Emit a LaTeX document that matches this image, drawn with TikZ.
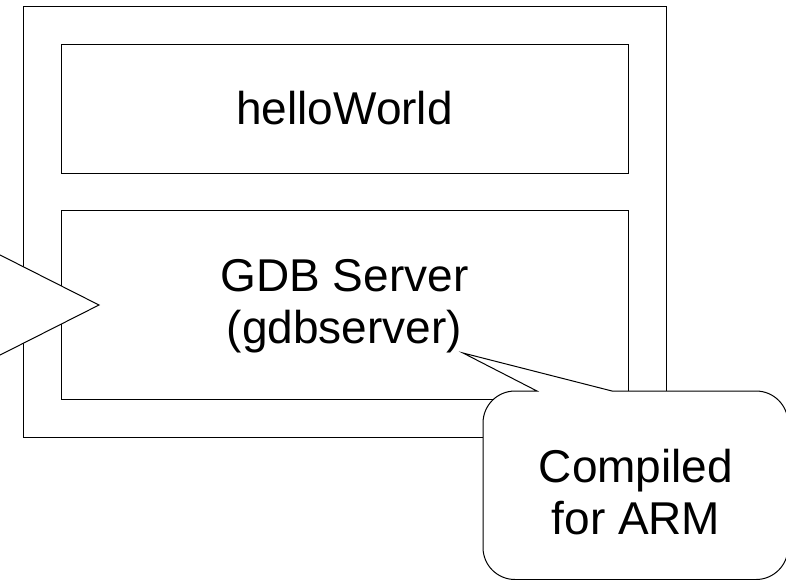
\documentclass[tikz,border=0pt]{standalone}
\usepackage{fontspec}
\setmainfont{Liberation Sans}
\begin{document}
\begin{tikzpicture}[x=1pt,y=-1pt,
  box/.style={draw=black,line width=1pt,fill=white,inner sep=0pt,outer sep=0pt},
  lbl/.style={align=center,font=\fontsize{46}{52}\selectfont,inner sep=0pt},
  bubble/.style={draw=black,line width=1pt,fill=white,line join=miter}]
\useasboundingbox (0,0) rectangle (786,579);
\clip (0,0) rectangle (786,579);
% outer frame
\node[box,minimum width=643pt,minimum height=431pt] (outer) at (344.5,221.5) {};
% inner boxes
\node[box,minimum width=567pt,minimum height=129pt] (hello) at (344.5,108.5) {};
\node[lbl] (hellotxt) at (hello.center) {helloWorld};
\node[box,minimum width=567pt,minimum height=189pt] (gdb) at (344.5,304.5) {};
\node[lbl] (gdbtxt) at (344.5,306) {GDB Server\\(gdbserver)};
% left callout (body outside the picture)
\coordinate (ltip) at (99,305);
\path[bubble] (-30,239.8) -- (ltip) -- (-30,370.2);
% right callout
\coordinate (rtip) at (463,353);
\path[bubble] (537,391) -- (rtip) -- (612,391) -- (756,391)
  .. controls (773.7,391) and (788,405.3) .. (788,423) -- (788,547.5)
  .. controls (788,565.2) and (773.7,579.5) .. (756,579.5) -- (515,579.5)
  .. controls (497.3,579.5) and (483,565.2) .. (483,547.5) -- (483,423)
  .. controls (483,405.3) and (497.3,391) .. (515,391) -- cycle;
\node[lbl] (armtxt) at (636,492) {Compiled\\for ARM};
\end{tikzpicture}
\end{document}
